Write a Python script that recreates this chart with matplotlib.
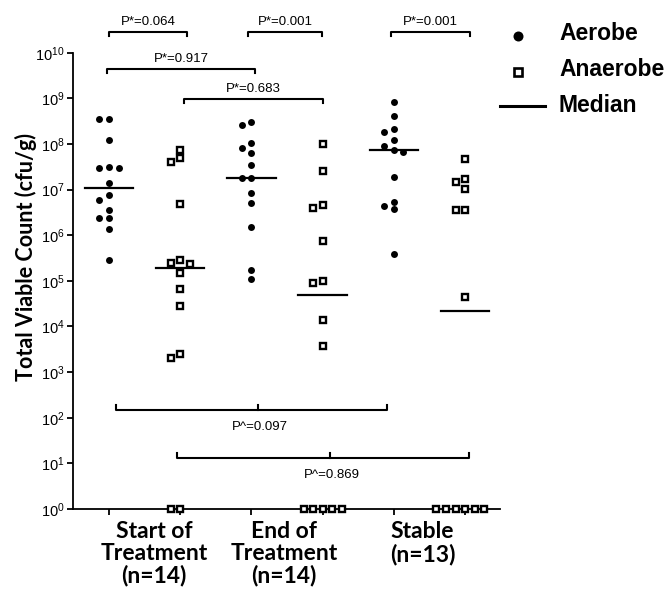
import numpy as np
import matplotlib
matplotlib.use("Agg")
import matplotlib.pyplot as plt
from matplotlib.lines import Line2D

plt.rcParams['font.family'] = ['Liberation Sans', 'DejaVu Sans']
plt.rcParams['mathtext.fontset'] = 'custom'
plt.rcParams['mathtext.rm'] = 'Liberation Sans'
plt.rcParams['mathtext.default'] = 'regular'

# values (cfu/g); 1 = plotted on the 10^0 baseline
group_labels = ["Start of\nTreatment\n(n=14)", "End of\nTreatment\n(n=14)", "Stable\n(n=13)"]

aerobe_start = [3.5e8, 3.5e8, 1.2e8, 3.2e7, 3.0e7, 3.0e7, 1.4e7, 7.7e6, 6.0e6,
                3.5e6, 2.4e6, 2.4e6, 1.4e6, 2.8e5]
anaerobe_start = [7.4e7, 5.0e7, 4.0e7, 4.9e6, 2.8e5, 2.5e5, 2.4e5, 1.5e5, 6.5e4,
                  2.8e4, 2.5e3, 2.0e3, 1, 1]
aerobe_end = [3.1e8, 2.6e8, 1.04e8, 8.2e7, 6.4e7, 3.4e7, 1.8e7, 1.8e7, 8.3e6,
              5.2e6, 1.5e6, 1.7e5, 1.1e5]
anaerobe_end = [1.0e8, 2.6e7, 4.7e6, 4.0e6, 7.4e5, 1.0e5, 8.9e4, 1.4e4, 3.7e3,
                1, 1, 1, 1, 1]
aerobe_stable = [8.5e8, 4.1e8, 2.1e8, 1.8e8, 1.2e8, 8.8e7, 7.4e7, 6.8e7, 1.9e7,
                 5.4e6, 4.3e6, 3.7e6, 3.8e5]
anaerobe_stable = [4.6e7, 1.7e7, 1.45e7, 1.05e7, 3.6e6, 3.6e6, 4.5e4,
                   1, 1, 1, 1, 1, 1]

columns = [aerobe_start, anaerobe_start, aerobe_end, anaerobe_end, aerobe_stable, anaerobe_stable]
is_aerobe = [True, False, True, False, True, False]
medians = [1.1e7, 1.9e5, 1.8e7, 5.0e4, 7.2e7, 2.2e4]

# comparisons: label, from column, to column, level (log10)
top_tests = [("P*=0.064", 1.0, 2.1, 10.45),
             ("P*=0.001", 2.95, 3.99, 10.45),
             ("P*=0.001", 4.96, 6.07, 10.45),
             ("P*=0.917", 0.97, 3.05, 9.64),
             ("P*=0.683", 2.05, 4.0, 8.99)]
bottom_tests = [("P^=0.097", 1.1, 4.9, 3.09, 2.17),
                ("P^=0.869", 1.95, 6.06, 4.10, 1.12)]


def swarm(vals, center, step=0.134, thr=0.15):
    # simple column scatter: push overlapping points sideways
    logs = np.log10(vals)
    xs = np.zeros(len(vals))
    placed = []
    for i in np.argsort(-logs, kind='stable'):
        for k in [0, -1, 1, -2, 2, -3, 3, -4, 4]:
            if all(abs(logs[i] - py) >= thr or pk != k for py, pk in placed):
                break
        placed.append((logs[i], k))
        xs[i] = center + k * step
    return xs


fig = plt.figure(figsize=(6.68, 5.94), dpi=100)
ax = fig.add_axes([73 / 668, 1 - 509 / 594, (500 - 73) / 668, (509 - 52.7) / 594])
ax.set_yscale('log')
ax.set_xlim(0.494, 6.49)
ax.set_ylim(1, 1e10)

for i, vals in enumerate(columns):
    pos = i + 1
    xs = swarm(vals, pos)
    if is_aerobe[i]:
        ax.plot(xs, vals, 'o', color='black', ms=5.0, mew=0, clip_on=False, zorder=3)
    else:
        ax.plot(xs, vals, 's', mfc='white', mec='black', ms=4.0, mew=1.7,
                clip_on=False, zorder=3)
    ax.plot([pos - 0.34, pos + 0.34], [medians[i]] * 2, color='black', lw=1.6, zorder=2)

# significance brackets above
for label, x0, x1, lev in top_tests:
    y = 10 ** lev
    yl = 10 ** (lev - 0.09)
    ax.plot([x0, x0, x1, x1], [yl, y, y, yl], color='black', lw=1.5, clip_on=False)
    ax.text((x0 + x1) / 2, 10 ** (lev + 0.22), label, ha='center', va='center',
            fontsize=9.5)

# brackets below
for label, x0, x1, xc, lev in bottom_tests:
    y = 10 ** lev
    yu = 10 ** (lev + 0.11)
    ax.plot([x0, x0, x1, x1], [yu, y, y, yu], color='black', lw=1.5)
    ax.plot([xc, xc], [y, yu], color='black', lw=1.5)
    ax.text(xc + 0.03, 10 ** (lev - 0.37), label, ha='center', va='center', fontsize=9.5)

ax.spines['top'].set_visible(False)
ax.spines['right'].set_visible(False)
for s in ['left', 'bottom']:
    ax.spines[s].set_linewidth(1.3)

ax.set_yticks([10.0 ** k for k in range(11)])
ax.set_yticklabels(['$10^{%d}$' % k for k in range(11)])
ax.minorticks_off()
ax.set_xticks(range(1, 7))
ax.set_xticklabels([])
ax.tick_params(axis='y', length=4, width=1.3, labelsize=10.5, pad=2)
ax.tick_params(axis='x', length=4, width=1.3)

for k, lab in enumerate(group_labels):
    ax.text([1.63, 3.46, 5.40][k], -0.027, lab, transform=ax.get_xaxis_transform(),
            ha='center', va='top', fontsize=16.5, fontweight='bold',
            family=['Lato', 'DejaVu Sans'], linespacing=1.05)

fig.text(26 / 668, 1 - 257 / 594, "Total Viable Count (cfu/g)", rotation=90,
         ha='center', va='center', fontsize=15.5, fontweight='bold',
         family=['Lato', 'DejaVu Sans'])

# legend drawn by hand
fig.lines.append(Line2D([518 / 668], [1 - 36 / 594], marker='o', color='black', ms=7.2,
                        mew=0, transform=fig.transFigure))
fig.lines.append(Line2D([518 / 668], [1 - 72 / 594], marker='s', mfc='white', mec='black',
                        ms=5.4, mew=1.9, transform=fig.transFigure))
fig.lines.append(Line2D([500 / 668, 545 / 668], [1 - 106 / 594] * 2, color='black', lw=2.2,
                        transform=fig.transFigure))
for txt, yy in [("Aerobe", 33), ("Anaerobe", 70), ("Median", 106)]:
    fig.text(559 / 668, 1 - yy / 594, txt, ha='left', va='center', fontsize=16.5,
             fontweight='bold')

fig.savefig('out.png', dpi=100)
